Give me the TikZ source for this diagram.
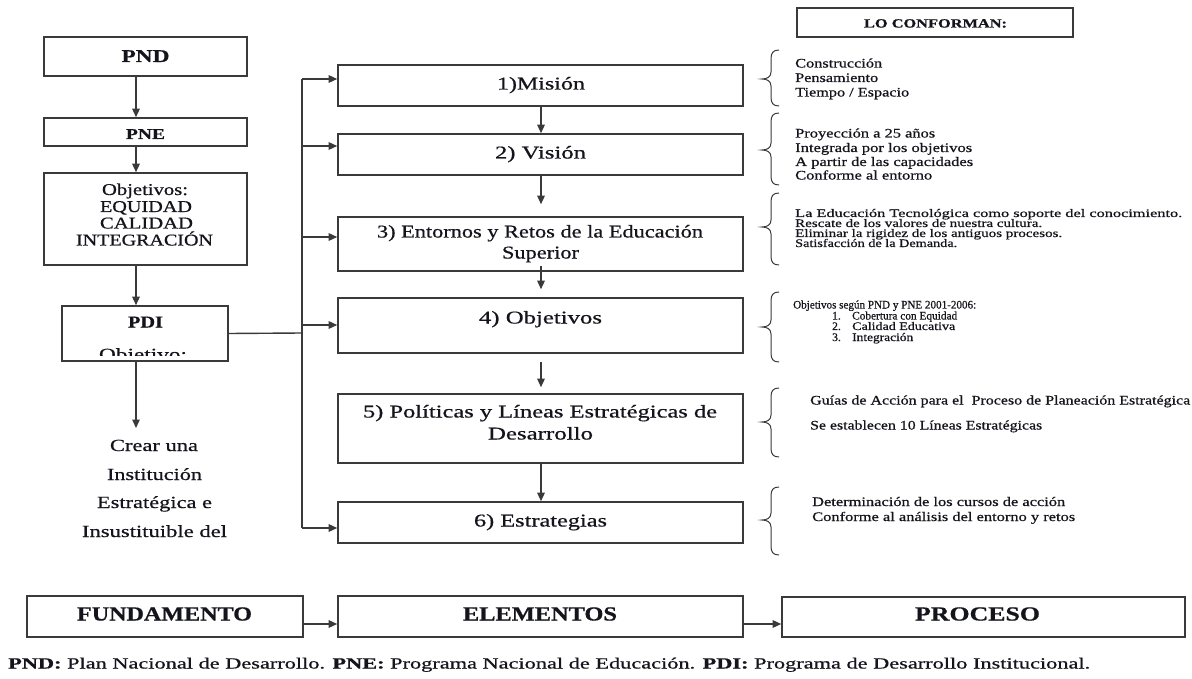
\documentclass[tikz,border=0pt]{standalone}
\usepackage{fontspec}
\setmainfont[FakeBold=0.6]{Liberation Serif}
\usepackage{graphicx}
\usetikzlibrary{arrows.meta}

\definecolor{edge}{RGB}{58,58,58}
\definecolor{ink}{RGB}{20,20,28}

% font size in pt
\newcommand\fsz[1]{\fontsize{#1}{#1}\selectfont}
% set #2 stretched horizontally to a width of #1 pt
\newlength\fitlen
\newcommand\fitw[2]{\settowidth\fitlen{#2}\pgfmathsetmacro\fitr{#1/\fitlen}\scalebox{\fitr}[1]{#2}}
% left curly brace: top, tip, bottom
\newcommand\curly[3]{%
  \draw[bracket] (779,#1) .. controls (773,#1) and (771,#1+3) .. (771,#1+9)
    -- (771,#2-7) .. controls (771,#2-2) and (767,#2) .. (762,#2)
    .. controls (767,#2) and (771,#2+2) .. (771,#2+7)
    -- (771,#3-9) .. controls (771,#3-3) and (773,#3) .. (779,#3);}

\begin{document}
\begin{tikzpicture}[x=1pt,y=-1pt,
  box/.style={draw=edge,line width=1.6pt,rectangle,inner sep=0pt},
  txt/.style={text=ink,inner sep=0pt,anchor=base},
  item/.style={text=ink,inner sep=0pt,anchor=base west},
  ln/.style={draw=edge,line width=1.4pt},
  arr/.style={draw=edge,line width=1.4pt,-{Triangle[length=8.5pt,width=7.5pt]}},
  bracket/.style={draw=edge,line width=1pt},
  title/.style={txt,font=\bfseries\fsz{20}},
  stage/.style={txt,font=\fsz{18}},
  left/.style={txt,font=\fsz{17}},
  listA/.style={item,font=\fsz{13}},
  listB/.style={item,font=\fsz{11.5}}]

\fill[white] (0,0) rectangle (1192,679);
\useasboundingbox (0,0) rectangle (1192,679);

% ---------- left column ----------
\node[box,minimum width=203pt,minimum height=39pt] (pnd) at (145.5,56.5) {};
\node[txt,font=\bfseries\fsz{18}] (pndt) at (145.5,62) {\fitw{48}{PND}};
\node[box,minimum width=203pt,minimum height=28pt] (pne) at (145.5,132) {};
\node[txt,font=\bfseries\fsz{15}] (pnet) at (145.5,139) {\fitw{39}{PNE}};
\node[box,minimum width=203pt,minimum height=92pt] (obj) at (145.5,219) {};
\node[txt,font=\fsz{16.5}] (obj1) at (145,195) {\fitw{86}{Objetivos:}};
\node[txt,font=\fsz{16.5}] (obj2) at (146,212) {\fitw{92}{EQUIDAD}};
\node[txt,font=\fsz{16.5}] (obj3) at (146.5,228.5) {\fitw{93}{CALIDAD}};
\node[txt,font=\fsz{16.5}] (obj4) at (144.5,245.5) {\fitw{137}{INTEGRACIÓN}};
\node[box,minimum width=166pt,minimum height=55pt] (pdi) at (145,333.5) {};
\node[txt,font=\bfseries\fsz{16.5}] (pdit) at (145.5,327.5) {\fitw{35}{PDI}};
\begin{scope}
  \clip (62,306) rectangle (228,355.5);
  \node[left] (pdiobj) at (143,360) {\fitw{88}{Objetivo:}};
\end{scope}
\node[left] (crear1) at (154,451) {\fitw{88}{Crear una}};
\node[left] (crear2) at (154.5,480) {\fitw{95}{Institución}};
\node[left] (crear3) at (154.5,508) {\fitw{115}{Estratégica e}};
\node[left] (crear4) at (154.5,537) {\fitw{145}{Insustituible del}};

\coordinate (ax) at (136,0);
\coordinate (pdiend) at (136,428);
\draw[arr] (pnd.south -| ax) -- (pne.north -| ax);
\draw[arr] (pne.south -| ax) -- (obj.north -| ax);
\draw[arr] (obj.south -| ax) -- (pdi.north -| ax);
\draw[arr] (pdi.south -| ax) -- (pdiend);

% ---------- stages ----------
\node[box,minimum width=405pt,minimum height=41pt] (m1) at (540.5,85.5) {};
\node[box,minimum width=405pt,minimum height=41pt] (m2) at (540.5,154.5) {};
\node[box,minimum width=405pt,minimum height=54pt] (m3) at (540.5,244) {};
\node[box,minimum width=405pt,minimum height=55pt] (m4) at (540.5,325.5) {};
\node[box,minimum width=405pt,minimum height=69pt] (m5) at (540.5,428.5) {};
\node[box,minimum width=405pt,minimum height=41pt] (m6) at (540.5,522.5) {};
\node[stage] (m1t) at (541,89.5) {\fitw{88}{1)Misión}};
\node[stage] (m2t) at (540.5,158.5) {\fitw{91}{2) Visión}};
\node[stage] (m3t) at (540,237.5) {\fitw{326}{3) Entornos y Retos de la Educación}};
\node[stage] (m3u) at (540.5,258.5) {\fitw{77}{Superior}};
\node[stage] (m4t) at (540.5,323.5) {\fitw{123}{4) Objetivos}};
\node[stage] (m5t) at (540,417.5) {\fitw{354}{5) Políticas y Líneas Estratégicas de}};
\node[stage] (m5u) at (540.5,439.5) {\fitw{105}{Desarrollo}};
\node[stage] (m6t) at (540.5,526.5) {\fitw{133}{6) Estrategias}};

\coordinate (cx) at (541,0);
\draw[arr] (m1.south -| cx) -- (m2.north -| cx);
\draw[arr,shorten >=12pt] (m2.south -| cx) -- (m3.north -| cx);
\draw[arr,shorten <=-6pt,shorten >=8pt] (m3.south -| cx) -- (m4.north -| cx);
\draw[arr,shorten <=8pt,shorten >=6pt] (m4.south -| cx) -- (m5.north -| cx);
\draw[arr] (m5.south -| cx) -- (m6.north -| cx);

% bus from PDI to the stages
\coordinate (bus) at (302,333);
\coordinate (b1) at (302,79);
\coordinate (b2) at (302,146);
\coordinate (b3) at (302,237);
\coordinate (b4) at (302,325);
\coordinate (b6) at (302,528);
\draw[ln] (pdi.east) -- (bus);
\draw[ln] (b1) -- (b6);
\draw[arr] (b1) -- (b1 -| m1.west);
\draw[arr] (b2) -- (b2 -| m2.west);
\draw[arr] (b3) -- (b3 -| m3.west);
\draw[arr] (b4) -- (b4 -| m4.west);
\draw[arr] (b6) -- (b6 -| m6.west);

% ---------- components ----------
\node[box,minimum width=276pt,minimum height=29pt] (conf) at (935,22.5) {};
\node[txt,font=\bfseries\fsz{12.5}] (conft) at (935.5,27.5) {\fitw{143}{LO CONFORMAN:}};

\curly{50}{79}{106}
\node[listA] (c11) at (795,67.5) {\fitw{87}{Construcción}};
\node[listA] (c12) at (795,82) {\fitw{83}{Pensamiento}};
\node[listA] (c13) at (795,96.5) {\fitw{114}{Tiempo / Espacio}};

\curly{113}{150}{185}
\node[listA] (c21) at (795,137.5) {\fitw{140}{Proyección a 25 años}};
\node[listA] (c22) at (795,152) {\fitw{177}{Integrada por los objetivos}};
\node[listA] (c23) at (795,166) {\fitw{178}{A partir de las capacidades}};
\node[listA] (c24) at (795,179.5) {\fitw{137}{Conforme al entorno}};

\curly{193}{227}{265}
\node[listB] (c31) at (795,217) {\fitw{387}{La Educación Tecnológica como soporte del conocimiento.}};
\node[listB] (c32) at (795,227) {\fitw{247}{Rescate de los valores de nuestra cultura.}};
\node[listB] (c33) at (795,237) {\fitw{267}{Eliminar la rigidez de los antiguos procesos.}};
\node[listB] (c34) at (795,247) {\fitw{162}{Satisfacción de la Demanda.}};

\curly{292}{327}{362}
\node[listB] (c41) at (793,308.5) {\fitw{183}{Objetivos según PND y PNE 2001-2006:}};
\node[listB] (c42n) at (832,319.5) {1.};
\node[listB] (c42) at (852,319.5) {\fitw{105}{Cobertura con Equidad}};
\node[listB] (c43n) at (832,330) {2.};
\node[listB] (c43) at (852,330) {\fitw{103}{Calidad Educativa}};
\node[listB] (c44n) at (832,341) {3.};
\node[listB] (c44) at (852,341) {\fitw{61}{Integración}};

\curly{388}{422}{457}
\node[listA] (c51) at (810,404.5) {\fitw{380}{Guías de Acción para el~ Proceso de Planeación Estratégica}};
\node[listA] (c52) at (810,429.5) {\fitw{232}{Se establecen 10 Líneas Estratégicas}};

\curly{487}{520}{555}
\node[listA] (c61) at (812,506) {\fitw{253}{Determinación de los cursos de acción}};
\node[listA] (c62) at (812,521) {\fitw{263}{Conforme al análisis del entorno y retos}};

% ---------- bottom row ----------
\node[box,minimum width=276pt,minimum height=41pt] (fund) at (165,616.5) {};
\node[box,minimum width=405pt,minimum height=41pt] (elem) at (540.5,616.5) {};
\node[box,minimum width=403pt,minimum height=40pt] (proc) at (983.5,617) {};
\node[title] (fundt) at (164.5,620.5) {\fitw{175}{FUNDAMENTO}};
\node[title] (elemt) at (540,620.5) {\fitw{154}{ELEMENTOS}};
\node[title] (proct) at (977.5,620.5) {\fitw{125}{PROCESO}};
\coordinate (by) at (0,624);
\draw[arr] (fund.east |- by) -- (elem.west |- by);
\draw[arr] (elem.east |- by) -- (proc.west |- by);

\node[item,font=\fsz{15.5}] (foot) at (8,668.5) {\fitw{1082}{\textbf{PND:} Plan Nacional de Desarrollo. \textbf{PNE:} Programa Nacional de Educación. \textbf{PDI:} Programa de Desarrollo Institucional.}};
\end{tikzpicture}
\end{document}
